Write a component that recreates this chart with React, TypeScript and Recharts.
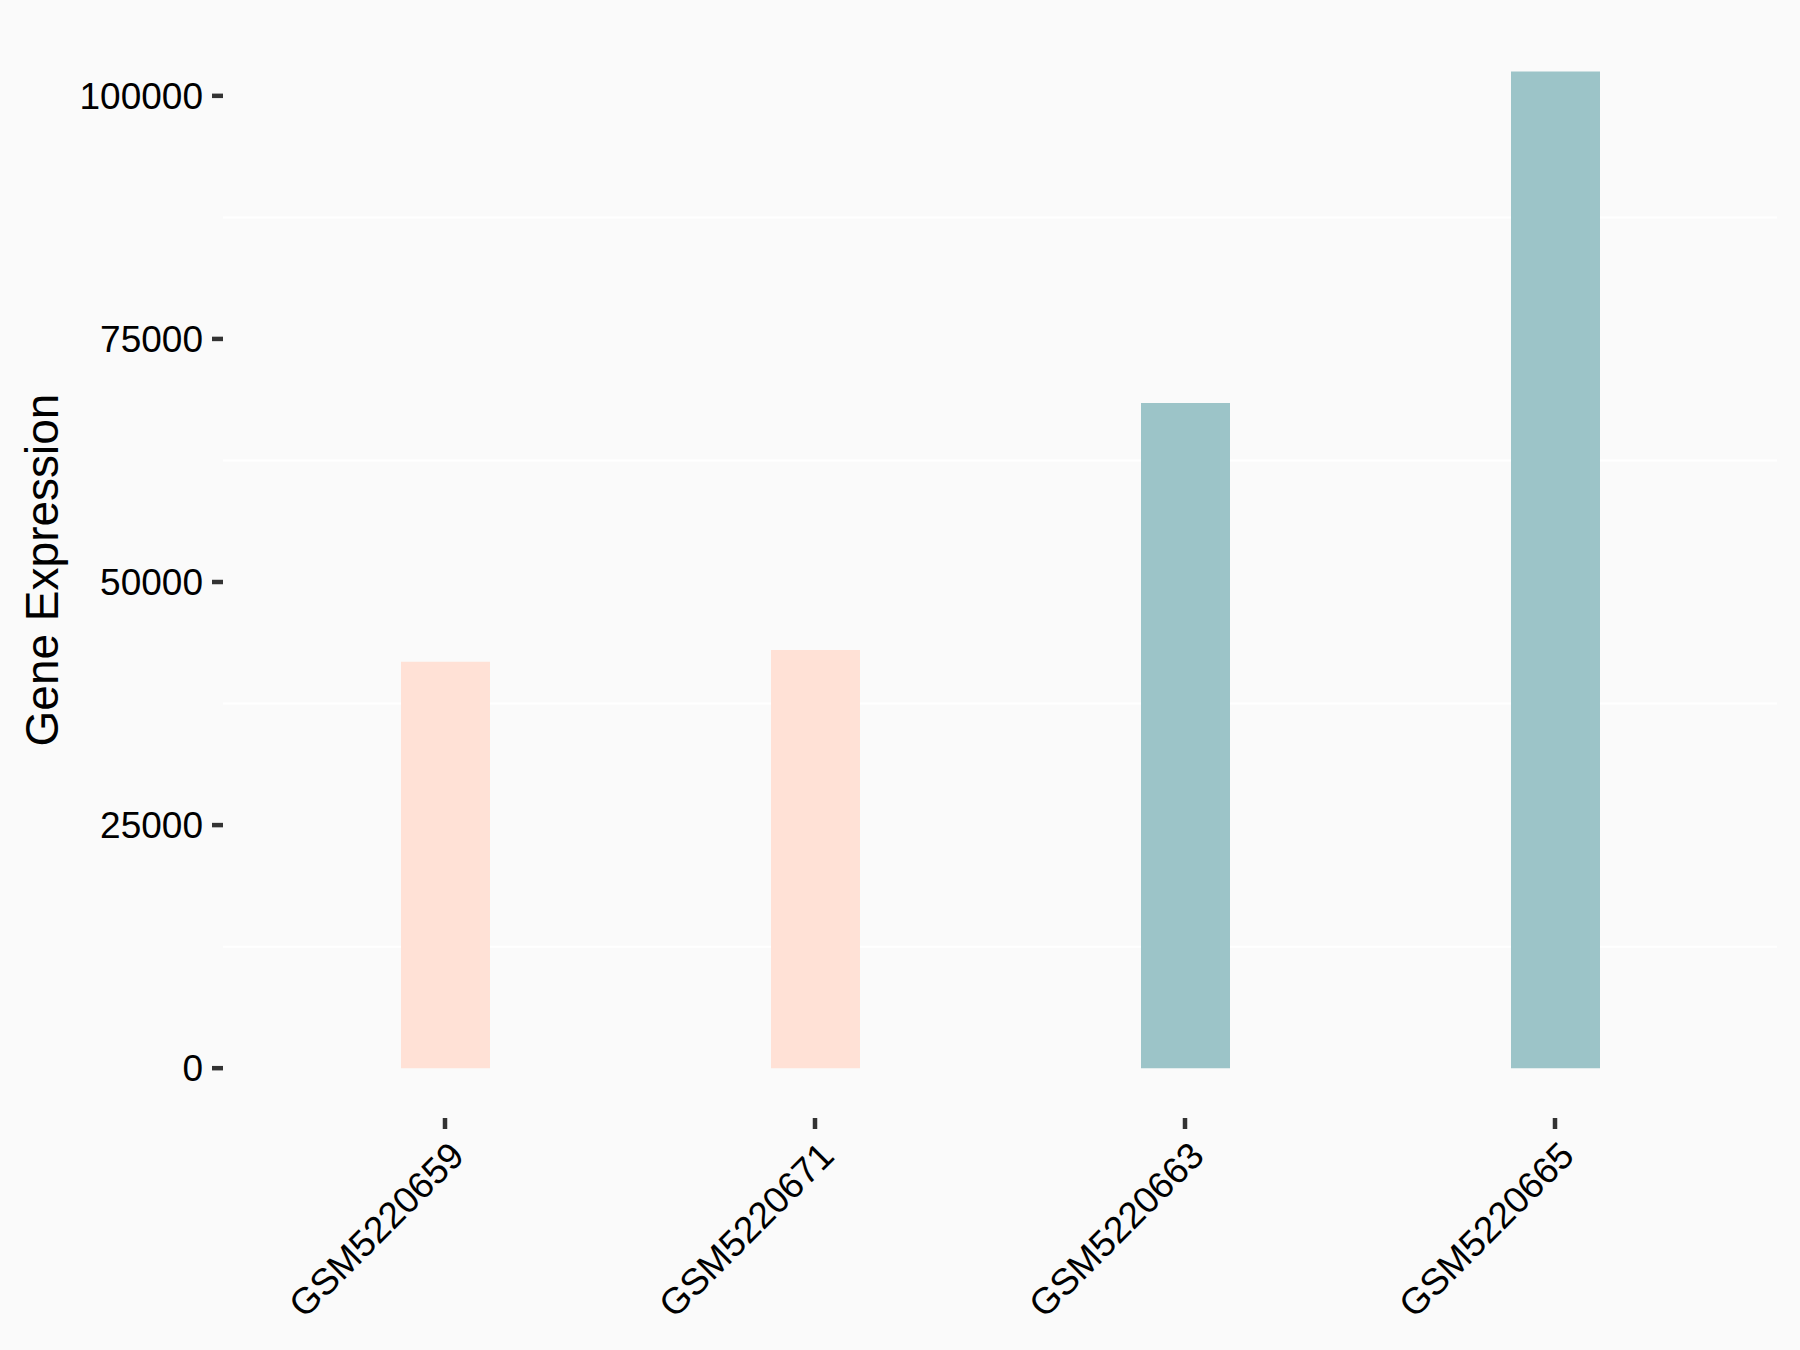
import { BarChart, Bar, XAxis, YAxis, CartesianGrid, Cell, Label } from 'recharts';

const samples = ['GSM5220659', 'GSM5220671', 'GSM5220663', 'GSM5220665'];
const expression = [41800, 43000, 68400, 102500];
const groups = ['low', 'low', 'high', 'high'];
const yTicks = [0, 25000, 50000, 75000, 100000];
const minorLines = [12500, 37500, 62500, 87500];

const groupColor: Record<string, string> = { low: '#FFE1D6', high: '#9CC4C8' };

const data = samples.map((s, i) => ({ sample: s, value: expression[i], group: groups[i] }));

const FONT = '"Liberation Sans", Arial, sans-serif';

function SampleTick(props: any) {
  const { x, y, payload } = props;
  // rotated 45deg, text end near the tick
  const bx = x + 21;
  const by = y + 29;
  return (
    <text
      x={bx}
      y={by}
      transform={`rotate(-45, ${bx}, ${by})`}
      textAnchor="end"
      fontSize={37}
      fontFamily={FONT}
      fill="#000"
    >
      {payload.value}
    </text>
  );
}

export default function App() {
  return (
    <div style={{ position: 'absolute', left: 0, top: 0, width: 1800, height: 1350, background: '#FAFAFA' }}>
      <BarChart
        width={1800}
        height={1350}
        data={data}
        margin={{ top: 22, right: 23, bottom: 0, left: 0 }}
        barCategoryGap={0}
      >
        <CartesianGrid horizontalValues={minorLines} vertical={false} stroke="#FFFFFF" strokeWidth={2} />
        <XAxis
          dataKey="sample"
          height={232}
          padding={{ left: 37, right: 37 }}
          axisLine={false}
          tickSize={11}
          tickMargin={0}
          tickLine={{ stroke: '#333', strokeWidth: 4.5 }}
          tick={<SampleTick />}
          interval={0}
        />
        <YAxis
          width={223}
          domain={[-5124, 107594]}
          ticks={yTicks}
          allowDataOverflow
          axisLine={false}
          tickSize={11}
          tickMargin={9}
          tickLine={{ stroke: '#333', strokeWidth: 4.5 }}
          tick={{ fontSize: 37, fontFamily: FONT, fill: '#000' }}
        >
          <Label
            content={(p: any) => {
              const vb = p.viewBox;
              const cy = vb.y + vb.height / 2;
              return (
                <text
                  x={58}
                  y={cy}
                  transform={`rotate(-90, 58, ${cy})`}
                  textAnchor="middle"
                  fontSize={46}
                  fontFamily={FONT}
                  fill="#000"
                >
                  Gene Expression
                </text>
              );
            }}
          />
        </YAxis>
        <Bar dataKey="value" barSize={89} isAnimationActive={false}>
          {data.map((d, i) => (
            <Cell key={i} fill={groupColor[d.group]} />
          ))}
        </Bar>
      </BarChart>
    </div>
  );
}
